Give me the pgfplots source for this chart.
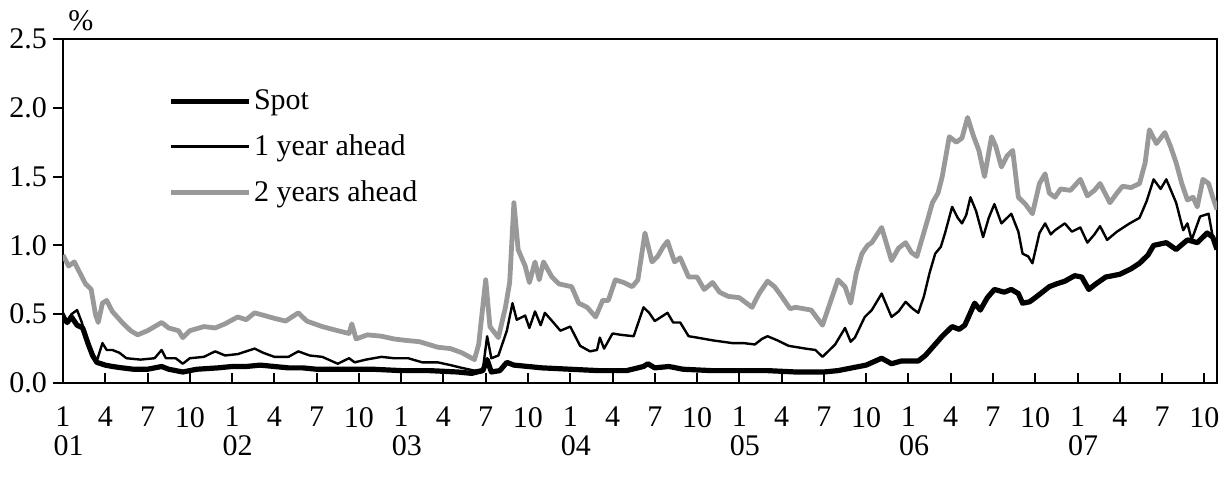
\documentclass[border=0pt]{standalone}
\usepackage{pgfplots}
\pgfplotsset{compat=1.18}
\usepackage{pgfplotstable}
\usepackage{fontspec}
\setmainfont{Liberation Serif}

% months counted from Jan 2001 (=0)
\pgfplotstableread{
m v
0 0.47
0.3 0.44
0.6 0.48
1.0 0.42
1.4 0.40
1.8 0.28
2.1 0.20
2.4 0.15
3 0.13
3.5 0.12
4.2 0.11
5 0.10
6 0.10
7 0.12
7.5 0.10
8.5 0.08
9.5 0.10
11 0.11
12 0.12
13 0.12
14 0.13
15 0.12
16 0.11
17 0.11
18 0.10
20 0.10
22 0.10
24 0.09
26 0.09
28 0.08
29 0.07
29.8 0.09
30.1 0.17
30.4 0.08
31 0.09
31.5 0.15
32 0.13
33 0.12
34 0.11
36 0.10
38 0.09
40 0.09
41.2 0.12
41.5 0.14
42 0.11
43 0.12
44 0.10
46 0.09
48 0.09
50 0.09
52 0.08
54 0.08
55 0.09
56 0.11
57 0.13
58.1 0.18
58.8 0.14
59.5 0.16
60.7 0.16
61.2 0.20
61.8 0.27
62.4 0.34
63.1 0.41
63.6 0.39
64 0.42
64.7 0.58
65.1 0.53
65.6 0.62
66.1 0.68
66.8 0.66
67.3 0.68
67.8 0.65
68.1 0.58
68.6 0.59
69 0.62
69.5 0.66
70 0.70
70.5 0.72
71.1 0.74
71.8 0.78
72.3 0.77
72.8 0.68
73.3 0.72
74 0.77
75 0.79
75.8 0.83
76.4 0.87
77 0.93
77.4 1.00
78.3 1.02
79 0.97
79.8 1.04
80.5 1.02
81.2 1.09
81.6 1.06
81.9 0.97
}\spot

\pgfplotstableread{
m v
0 0.51
0.3 0.45
0.6 0.50
1.0 0.53
1.3 0.45
1.7 0.32
2.1 0.20
2.4 0.16
2.8 0.29
3.1 0.24
3.5 0.24
4 0.22
4.5 0.18
5.5 0.17
6.5 0.18
7 0.24
7.3 0.18
8 0.18
8.5 0.14
9 0.18
10 0.19
10.8 0.23
11.5 0.20
12.4 0.21
13.6 0.25
14.2 0.22
15 0.19
16 0.19
16.7 0.23
17.5 0.20
18.4 0.19
19.5 0.14
20.3 0.18
20.7 0.15
21.5 0.17
22.6 0.19
23.5 0.18
24.5 0.18
25.5 0.15
26.6 0.15
27.5 0.13
28.3 0.11
29.2 0.09
29.8 0.10
30.1 0.34
30.4 0.18
30.9 0.20
31.5 0.38
31.9 0.58
32.2 0.46
32.8 0.49
33.1 0.40
33.5 0.52
33.9 0.42
34.2 0.51
34.8 0.44
35.3 0.38
36 0.41
36.7 0.27
37.4 0.23
37.9 0.24
38.1 0.33
38.4 0.25
39 0.36
39.6 0.35
40.5 0.34
41.2 0.55
41.6 0.51
42 0.45
42.9 0.51
43.3 0.44
43.8 0.44
44.4 0.34
45 0.33
46.1 0.31
46.8 0.30
47.5 0.29
48.3 0.29
49.1 0.28
49.6 0.32
50 0.34
50.7 0.31
51.5 0.27
52.7 0.25
53.4 0.24
53.9 0.19
54.8 0.28
55.5 0.40
55.9 0.30
56.2 0.33
56.9 0.48
57.4 0.53
58.1 0.65
58.8 0.48
59.3 0.52
59.8 0.59
60.3 0.54
60.7 0.51
61.1 0.63
61.5 0.80
61.9 0.94
62.3 0.99
62.6 1.09
63.1 1.28
63.5 1.20
63.8 1.16
64.1 1.22
64.4 1.35
64.8 1.25
65.3 1.06
65.7 1.20
66.1 1.30
66.6 1.16
67 1.20
67.3 1.23
67.8 1.10
68.1 0.94
68.5 0.92
68.8 0.87
69.3 1.09
69.7 1.16
70.1 1.08
70.4 1.11
71.1 1.16
71.6 1.10
72.2 1.13
72.7 1.02
73.2 1.08
73.6 1.14
74.1 1.04
74.8 1.10
75.7 1.16
76.4 1.20
76.9 1.32
77.4 1.48
77.9 1.41
78.3 1.48
79 1.31
79.5 1.11
79.8 1.16
80.1 1.04
80.7 1.21
81.3 1.23
81.6 1.06
81.9 0.99
}\oneyear

\pgfplotstableread{
m v
0 0.93
0.4 0.85
0.8 0.88
1.2 0.80
1.6 0.72
2.0 0.68
2.3 0.50
2.5 0.44
2.8 0.58
3.1 0.60
3.5 0.52
4.2 0.44
4.8 0.38
5.3 0.35
6 0.38
7 0.44
7.5 0.40
8.2 0.38
8.5 0.33
9 0.38
10 0.41
10.8 0.40
11.5 0.43
12.4 0.48
13 0.46
13.6 0.51
14.3 0.49
15 0.47
15.8 0.45
16.7 0.51
17.3 0.45
18.4 0.41
19.5 0.38
20.3 0.36
20.5 0.43
20.8 0.32
21.6 0.35
22.6 0.34
23.5 0.32
24.3 0.31
25.3 0.30
26.6 0.26
27.5 0.25
28.3 0.22
29.2 0.17
29.5 0.28
30.0 0.75
30.3 0.41
30.9 0.33
31.4 0.55
31.7 0.73
32.0 1.31
32.3 0.97
32.8 0.85
33.1 0.73
33.5 0.88
33.8 0.75
34.1 0.88
34.7 0.77
35.2 0.72
36.1 0.70
36.6 0.58
37.2 0.55
37.8 0.48
38.3 0.60
38.7 0.60
39.2 0.75
39.8 0.73
40.4 0.70
40.8 0.75
41.3 1.09
41.8 0.88
42.2 0.92
42.6 0.99
42.9 1.03
43.4 0.88
43.8 0.91
44.4 0.77
45 0.77
45.5 0.68
46.1 0.73
46.6 0.66
47.2 0.63
48 0.62
48.9 0.55
49.4 0.65
50 0.74
50.5 0.70
51 0.63
51.6 0.54
52 0.55
53.1 0.53
53.9 0.42
54.5 0.60
55 0.75
55.5 0.70
55.9 0.58
56.3 0.80
56.7 0.94
57.1 1.00
57.4 1.02
58.1 1.13
58.8 0.89
59.3 0.98
59.8 1.02
60.2 0.95
60.6 0.92
61.0 1.06
61.4 1.20
61.7 1.31
62.1 1.38
62.4 1.50
62.9 1.79
63.4 1.75
63.8 1.78
64.2 1.93
64.6 1.80
65.0 1.69
65.4 1.50
65.9 1.79
66.2 1.72
66.6 1.57
67 1.65
67.4 1.69
67.8 1.35
68.3 1.30
68.8 1.23
69.3 1.45
69.7 1.52
70.0 1.38
70.4 1.35
70.8 1.41
71.5 1.40
72.2 1.48
72.7 1.36
73.2 1.40
73.6 1.45
74.3 1.31
74.8 1.38
75.2 1.43
75.8 1.42
76.4 1.45
76.8 1.60
77.1 1.84
77.6 1.74
78.2 1.82
78.6 1.72
79.0 1.60
79.4 1.45
79.8 1.33
80.2 1.35
80.5 1.28
80.9 1.48
81.3 1.45
81.6 1.35
81.9 1.26
}\twoyears

\begin{document}
\begin{tikzpicture}
\begin{axis}[
  name=ax,
  scale only axis,
  width=577pt, height=172pt,
  xmin=0, xmax=81.9, ymin=0, ymax=2.5,
  font=\fontsize{15}{17}\selectfont,
  axis line style={line width=1.1pt},
  tick style={line width=1pt, black},
  tick align=inside,
  major tick length=4.8pt,
  y tick style={xshift=-4.8pt},
  xtick pos=bottom, ytick pos=left,
  xtick={0,3,...,81},
  xticklabels={1,4,7,10,1,4,7,10,1,4,7,10,1,4,7,10,1,4,7,10,1,4,7,10,1,4,7,10},
  xticklabel style={yshift=-8.5pt},
  extra x ticks={0.4,12.4,24.4,36.4,48.4,60.4,72.4},
  extra x tick labels={01,02,03,04,05,06,07},
  extra x tick style={major tick length=0pt, xticklabel style={yshift=-14pt}},
  ytick={0,0.5,...,2.5},
  yticklabel style={xshift=-4.5pt, /pgf/number format/fixed, /pgf/number format/fixed zerofill, /pgf/number format/precision=1},
  /pgf/number format/assume math mode=true,
  legend style={draw=none, fill=none, at={(0.091,0.86)}, anchor=north west,
    row sep=8.5pt, inner sep=0pt, nodes={inner sep=1.2pt}},
  legend cell align=left,
  legend image code/.code={\draw[#1] (0pt,0pt) -- (39pt,0pt);},
  reverse legend,
  every axis plot/.append style={line join=round},
]
\addplot[black!40, line width=2.4pt] table[x=m, y=v] {\twoyears};
\addplot[black, line width=1.2pt] table[x=m, y=v] {\oneyear};
\addplot[black, line width=2.6pt] table[x=m, y=v] {\spot};
\legend{2 years ahead, 1 year ahead, Spot}
\end{axis}
\node[anchor=south west, inner sep=0pt, font=\fontsize{15}{17}\selectfont] at ([xshift=2.5pt, yshift=4pt]ax.north west) {\%};
\path ([xshift=-31.5pt, yshift=-46.5pt]ax.south west) rectangle ([xshift=6pt, yshift=19.5pt]ax.north east);
\end{tikzpicture}
\end{document}
